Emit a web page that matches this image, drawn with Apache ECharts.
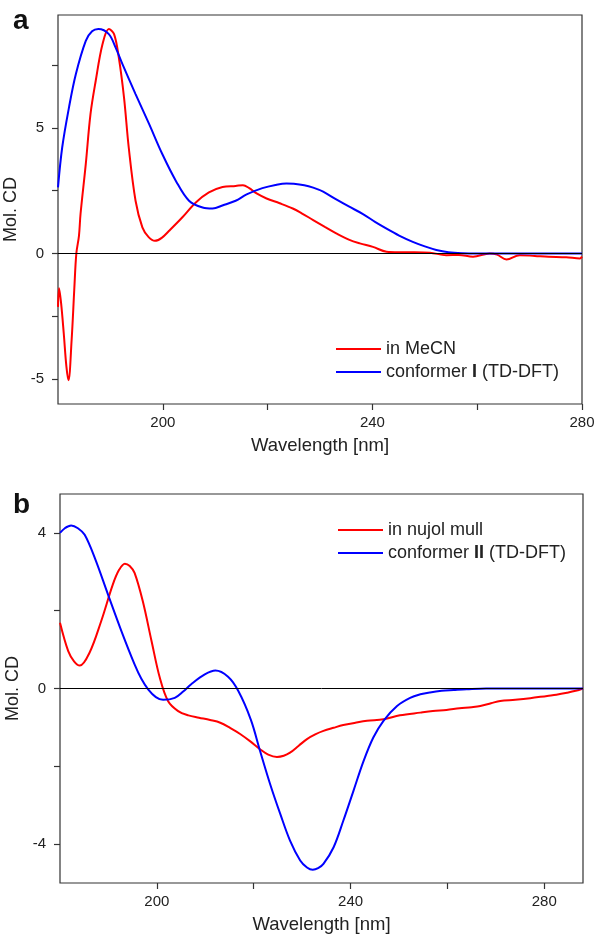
<!DOCTYPE html>
<html>
<head>
<meta charset="utf-8">
<script src="https://cdn.jsdelivr.net/npm/echarts@6/dist/echarts.min.js"></script>
<style>
html,body{margin:0;padding:0;background:#fff;}
#chart{width:595px;height:934px;}
</style>
</head>
<body>
<div id="chart"></div>
<script>
// ---- Panel a data ----
var aMeCNX = [180,180.2,180.6,181.1,181.6,182.0,182.6,183.1,183.5,184.0,184.3,185.3,186.2,187.2,188.5,189.7,190.7,191.6,192.6,193.5,194.8,196.1,197.3,198.5,199.8,201.2,203.7,206.3,208.8,211.4,213.9,215.3,216.5,217.9,219.8,222.3,224.8,226.5,228.7,231,233.1,235.5,237.6,240.1,242.7,245,248,251,254.1,256.5,259.2,262.4,263.8,265.6,268.1,271,273.6,277,279.6,280];
var aMeCNY = [-2.13,-1.39,-2.0,-3.19,-4.5,-5.05,-3.45,-1.46,0,0.7,1.57,3.56,5.55,6.88,8.34,8.94,8.74,7.81,6.21,4.22,2.1,1.04,0.65,0.5,0.62,0.9,1.43,2.03,2.43,2.65,2.69,2.72,2.6,2.39,2.19,2.0,1.79,1.6,1.33,1.05,0.8,0.55,0.4,0.26,0.07,0.05,0.05,0.03,-0.07,-0.06,-0.13,0.0,-0.05,-0.24,-0.07,-0.1,-0.13,-0.15,-0.2,-0.13];
var aConfX = [180,180.8,182.1,183.4,185.3,186.5,187.7,189.7,191,192.3,194.8,197.4,199.9,202.5,205,207.6,209.5,211.5,213.9,216,219,221.5,223.6,225,227,228.7,230.6,233.1,235.5,238.2,240.5,243.3,245.5,247.7,250,252.2,254.5,257.2,260,270,280];
var aConfY = [2.63,4.22,5.82,7.14,8.47,8.85,8.94,8.74,8.2,7.54,6.35,5.15,3.96,2.89,2.1,1.83,1.79,1.92,2.1,2.35,2.6,2.73,2.79,2.78,2.72,2.62,2.46,2.15,1.87,1.57,1.26,0.92,0.67,0.46,0.28,0.14,0.05,0.01,0,0,0];

// ---- Panel b data ----
var bNujolX = [180,181.7,182.9,184.1,186.1,188.5,190.9,192.2,193.4,194.4,195.4,197.1,198.9,200.6,202.3,204.4,206.5,208.7,211,213.1,215.2,217.2,219.3,221.3,223,224.8,226.2,227.5,229.3,231,232.7,234.4,236.5,238.5,241,243.4,246.8,250.2,254.4,257,259.8,262.5,265,266.8,269,270.9,274,277.1,280.6,282.5,284.7,286.5,288];
var bNujolY = [1.69,0.96,0.7,0.59,0.92,1.73,2.67,3.05,3.21,3.15,2.97,2.24,1.22,0.28,-0.32,-0.58,-0.69,-0.75,-0.81,-0.88,-1.02,-1.17,-1.36,-1.56,-1.7,-1.76,-1.73,-1.65,-1.47,-1.3,-1.18,-1.09,-1.01,-0.94,-0.88,-0.83,-0.79,-0.69,-0.62,-0.58,-0.55,-0.51,-0.48,-0.45,-0.38,-0.32,-0.29,-0.25,-0.19,-0.16,-0.11,-0.06,0];
var bConfX = [180,181,182.3,183.7,185.1,187.2,189.9,192.7,195.4,196.8,198.2,199.8,201.3,203.7,205.5,207.1,209.9,212.1,214.7,216.8,219.4,221.3,223.4,225.5,227.5,229.6,231,232.2,233.3,234.4,236.5,238.5,240.6,242.7,244.7,246.8,249.6,252.3,254.4,256.4,258.8,261.3,264,268,275,288];
var bConfY = [4.0,4.12,4.19,4.12,3.95,3.35,2.42,1.47,0.62,0.25,-0.02,-0.22,-0.29,-0.24,-0.07,0.11,0.36,0.46,0.3,-0.06,-0.8,-1.6,-2.46,-3.23,-3.91,-4.42,-4.6,-4.66,-4.62,-4.51,-4.08,-3.4,-2.63,-1.86,-1.26,-0.83,-0.45,-0.24,-0.15,-0.1,-0.06,-0.04,-0.02,0,0,0];

// ---- Axes ticks / labels ----
var aXTicks = [200,220,240,260,280], aXLabels = [200,240,280];
var aYTicks = [-5,-2.5,0,2.5,5,7.5], aYLabels = [-5,0,5];
var bXTicks = [200,220,240,260,280], bXLabels = [200,240,280];
var bYTicks = [-4,-2,0,2,4], bYLabels = [-4,0,4];

var FONT = 'Liberation Sans, Arial, sans-serif';
var TXT = '#222';

function zip(xs, ys){ return xs.map(function(x,i){ return [x, ys[i]]; }); }

function xAxisDef(gi, min, max, ticks, labels){
  return {
    type:'value', gridIndex:gi, min:min, max:max, position:'bottom',
    name:'Wavelength [nm]', nameLocation:'middle', nameGap:32,
    nameTextStyle:{fontFamily:FONT, fontSize:18.5, color:TXT},
    axisLine:{show:false, onZero:false}, splitLine:{show:false},
    axisTick:{show:true, inside:false, length:6, customValues:ticks, lineStyle:{color:'#333', width:1.2}},
    axisLabel:{customValues:labels, margin:11, fontFamily:FONT, fontSize:15, color:TXT}
  };
}
function yAxisDef(gi, min, max, ticks, labels){
  return {
    type:'value', gridIndex:gi, min:min, max:max, position:'left',
    name:'Mol. CD', nameLocation:'middle', nameGap:30,
    nameTextStyle:{fontFamily:FONT, fontSize:18, color:TXT},
    axisLine:{show:false, onZero:false}, splitLine:{show:false},
    axisTick:{show:true, inside:false, length:6, customValues:ticks, lineStyle:{color:'#333', width:1.2}},
    axisLabel:{customValues:labels, margin:14, fontFamily:FONT, fontSize:15, color:TXT}
  };
}
var zeroLine = {
  silent:true, symbol:'none', label:{show:false},
  lineStyle:{color:'#000', width:1, type:'solid'},
  emphasis:{disabled:true},
  data:[{yAxis:0}]
};
function lineSeries(name, gi, data, color, withZero){
  var s = {
    name:name, type:'line', xAxisIndex:gi, yAxisIndex:gi,
    data:data, smooth:0.35, showSymbol:false, symbol:'none',
    lineStyle:{color:color, width:2}, itemStyle:{color:color}, animation:false
  };
  if (withZero) s.markLine = zeroLine;
  return s;
}
var legendFmt = function(name){
  var m = name.match(/^(conformer )(I+)( .*)$/);
  if (m) return '{n|' + m[1] + '}{b|' + m[2] + '}{n|' + m[3] + '}';
  return '{n|' + name + '}';
};
var legendText = {
  fontFamily:FONT, fontSize:18, color:TXT,
  rich:{
    n:{fontFamily:FONT, fontSize:18, color:TXT},
    b:{fontFamily:FONT, fontSize:18, color:TXT, fontWeight:'bold'}
  }
};

var chart = echarts.init(document.getElementById('chart'), null, {renderer:'canvas'});
chart.setOption({
  backgroundColor:'#fff',
  animation:false,
  grid:[
    {left:58, top:15, width:524, height:389, containLabel:false, outerBoundsMode:'none', show:true, borderColor:'#333', borderWidth:1.2, backgroundColor:'transparent'},
    {left:60, top:494, width:523, height:389, containLabel:false, outerBoundsMode:'none', show:true, borderColor:'#333', borderWidth:1.2, backgroundColor:'transparent'}
  ],
  xAxis:[ xAxisDef(0,180,280,aXTicks,aXLabels), xAxisDef(1,180,288,bXTicks,bXLabels) ],
  yAxis:[ yAxisDef(0,-6,9.5,aYTicks,aYLabels), yAxisDef(1,-5,5,bYTicks,bYLabels) ],
  legend:[
    {data:['in MeCN','conformer I (TD-DFT)'], orient:'vertical', left:331, top:335,
     icon:'rect', itemWidth:45, itemHeight:2, itemGap:5, formatter:legendFmt, textStyle:legendText, selectedMode:false},
    {data:['in nujol mull','conformer II (TD-DFT)'], orient:'vertical', left:333, top:516,
     icon:'rect', itemWidth:45, itemHeight:2, itemGap:5, formatter:legendFmt, textStyle:legendText, selectedMode:false}
  ],
  graphic:[
    {type:'text', left:13, top:7, style:{text:'a', font:'bold 28px ' + FONT, fill:'#111'}},
    {type:'text', left:13, top:491, style:{text:'b', font:'bold 28px ' + FONT, fill:'#111'}}
  ],
  series:[
    lineSeries('in MeCN', 0, zip(aMeCNX, aMeCNY), '#ff0000', true),
    lineSeries('conformer I (TD-DFT)', 0, zip(aConfX, aConfY), '#0000ff', false),
    lineSeries('in nujol mull', 1, zip(bNujolX, bNujolY), '#ff0000', true),
    lineSeries('conformer II (TD-DFT)', 1, zip(bConfX, bConfY), '#0000ff', false)
  ]
});
</script>
</body>
</html>
